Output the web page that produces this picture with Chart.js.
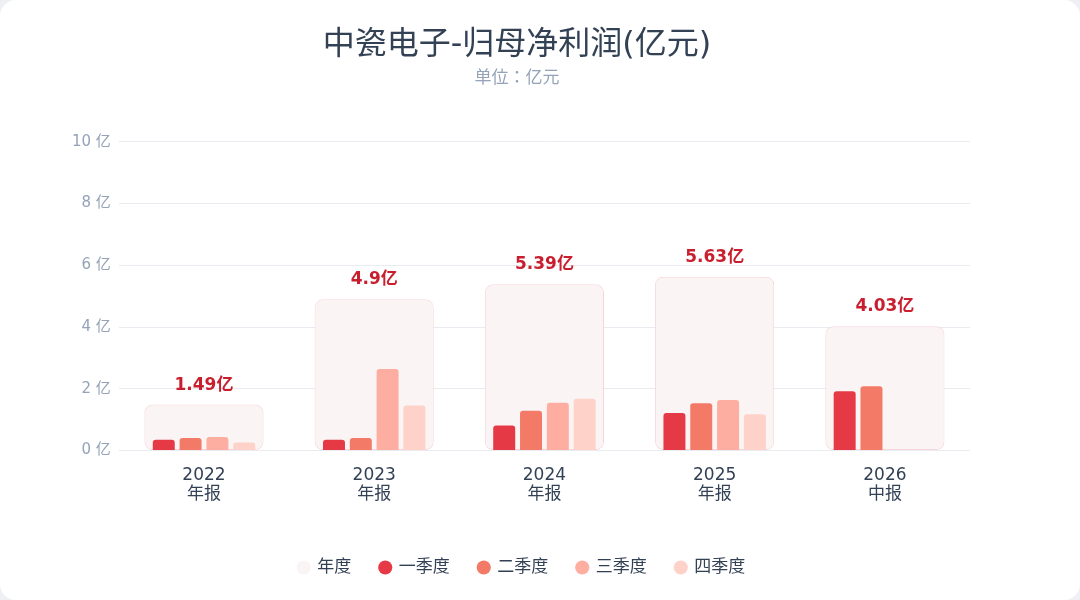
<!DOCTYPE html>
<html>
<head>
<meta charset="utf-8">
<script src="https://cdn.jsdelivr.net/npm/chart.js@4.4.1/dist/chart.umd.min.js"></script>
<style>
  html, body { margin: 0; padding: 0; background: #eef0f3; }
  #card { width: 1080px; height: 600px; background: #ffffff; border-radius: 16px; position: relative; overflow: hidden; }
  canvas { display: block; }
</style>
</head>
<body>
<div id="card"><canvas id="c" width="1080" height="600"></canvas></div>
<script>
const years = ['2022', '2023', '2024', '2025', '2026'];
const periods = ['年报', '年报', '年报', '年报', '中报'];
const annual = [1.49, 4.9, 5.39, 5.63, 4.03];
const q1 = [0.35, 0.35, 0.81, 1.22, 1.92];
const q2 = [0.41, 0.41, 1.29, 1.53, 2.08];
const q3 = [0.44, 2.64, 1.55, 1.64, null];
const q4 = [0.26, 1.46, 1.68, 1.18, null];
const yTicks = [0, 2, 4, 6, 8, 10];

const FONT = '"DejaVu Sans", "Noto Sans CJK SC", sans-serif';
const FONT_JP = '"DejaVu Sans", "Noto Sans CJK JP", sans-serif';

const labelPlugin = {
  id: 'annualLabels',
  afterLayout(chart) {
    if (chart.legend) { chart.legend.left += 5; chart.legend.right += 5; }
  },
  afterDatasetsDraw(chart) {
    const meta = chart.getDatasetMeta(0);
    const ctx = chart.ctx;
    ctx.save();
    ctx.font = 'bold 17px ' + FONT;
    ctx.fillStyle = '#c81e2e';
    ctx.textAlign = 'center';
    ctx.textBaseline = 'bottom';
    meta.data.forEach((el, i) => {
      ctx.fillText(annual[i] + '亿', el.x, el.y - 11);
    });
    ctx.restore();
  }
};

const qStyle = (color) => ({
  backgroundColor: color,
  borderColor: color,
  borderWidth: 0,
  borderRadius: { topLeft: 3, topRight: 3, bottomLeft: 0, bottomRight: 0 },
  borderSkipped: 'bottom',
  categoryPercentage: 0.63,
  barPercentage: 0.82,
  order: 0
});

new Chart(document.getElementById('c'), {
  type: 'bar',
  data: {
    labels: years.map((y, i) => [y, periods[i]]),
    datasets: [
      {
        label: '年度',
        data: annual,
        grouped: false,
        backgroundColor: '#fbf4f5',
        borderColor: '#f6d6db',
        borderWidth: 1,
        borderRadius: 8,
        borderSkipped: false,
        categoryPercentage: 0.7,
        barPercentage: 1,
        order: 1
      },
      Object.assign({ label: '一季度', data: q1 }, qStyle('#e63946')),
      Object.assign({ label: '二季度', data: q2 }, qStyle('#f27a67')),
      Object.assign({ label: '三季度', data: q3 }, qStyle('#fdaea0')),
      Object.assign({ label: '四季度', data: q4 }, qStyle('#fed1c9'))
    ]
  },
  options: {
    responsive: false,
    animation: false,
    devicePixelRatio: 1,
    layout: { padding: { left: 64, right: 110, top: 12, bottom: 14 } },
    plugins: {
      title: {
        display: true,
        text: '中瓷电子-归母净利润(亿元)',
        color: '#334155',
        font: { family: FONT, size: 32, weight: 'normal' },
        padding: { top: 14, bottom: 4 }
      },
      subtitle: {
        display: true,
        text: '单位：亿元',
        color: '#94a3b8',
        font: { family: FONT_JP, size: 17, weight: 'normal' },
        padding: { top: 0, bottom: 53 }
      },
      legend: {
        position: 'bottom',
        labels: {
          usePointStyle: true,
          pointStyle: 'circle',
          boxWidth: 10,
          boxHeight: 10,
          padding: 29,
          color: '#334155',
          font: { family: FONT, size: 17 },
          sort: (a, b) => a.datasetIndex - b.datasetIndex,
          generateLabels(chart) {
            return chart.data.datasets.map((ds, i) => ({
              text: ds.label,
              fillStyle: ds.backgroundColor,
              strokeStyle: ds.backgroundColor,
              lineWidth: 0,
              pointStyle: 'circle',
              fontColor: '#334155',
              datasetIndex: i,
              hidden: false
            }));
          }
        }
      },
      tooltip: { enabled: false }
    },
    scales: {
      x: {
        grid: { display: false },
        border: { display: false },
        afterFit(scale) { scale.height += 18; },
        ticks: {
          color: '#334155',
          font: { family: FONT, size: 17, lineHeight: 1.1 },
          padding: 8
        }
      },
      y: {
        min: 0,
        max: 10,
        afterBuildTicks(axis) { axis.ticks = yTicks.map(v => ({ value: v })); },
        grid: { color: '#e9ebf0', lineWidth: 1, drawTicks: false },
        border: { display: false },
        ticks: {
          color: '#94a3b8',
          font: { family: FONT, size: 15 },
          padding: 8,
          callback: (v) => v + ' 亿'
        }
      }
    }
  },
  plugins: [labelPlugin]
});
</script>
</body>
</html>
